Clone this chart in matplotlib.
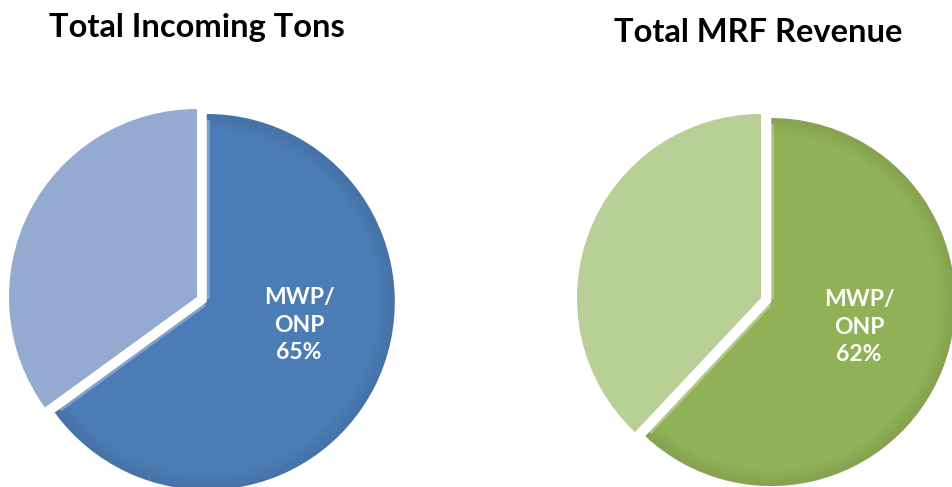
import matplotlib
matplotlib.use('Agg')
import matplotlib.pyplot as plt
from matplotlib.patches import Wedge
import numpy as np

# Data
titles = ['Total Incoming Tons', 'Total MRF Revenue']
share_mwp = [65, 62]          # MWP/ONP share in percent
share_other = [35, 38]
label_name = 'MWP/\nONP'
main_colors = ['#4C7CB5', '#91B157']
other_colors = ['#95AAD0', '#B8CF96']

W, H = 952, 487
fig = plt.figure(figsize=(W / 100, H / 100), dpi=100)
ax = fig.add_axes([0, 0, 1, 1])

# pie layout in pixels (center of the un-exploded pie, radius)
centers = [(197, H - 297), (761, H - 298)]
radii = [188, 184]
title_pos = [(197, H - 27), (758, H - 33)]
label_pos = [(299, H - 325), (859, H - 327)]

for i in range(2):
    r = radii[i]
    wedges, _ = ax.pie([share_mwp[i], share_other[i]], colors=[main_colors[i], other_colors[i]],
                       startangle=90, counterclock=False, center=centers[i], radius=r,
                       explode=[11, 0], wedgeprops=dict(linewidth=0))
    big = wedges[0]
    cx, cy = big.center
    # darker rim on the big slice to fake the bevel shadow
    for k in range(8):
        ax.add_patch(Wedge((cx, cy), big.r - k * 2, big.theta1, big.theta2, width=2,
                           facecolor='black', alpha=0.08 * (8 - k) / 8, linewidth=0))
    # light bevel along the straight edges
    for ang in (big.theta1, big.theta2):
        a = np.deg2rad(ang)
        ax.plot([cx + 3 * np.cos(a), cx + (big.r - 6) * np.cos(a)],
                [cy + 3 * np.sin(a), cy + (big.r - 6) * np.sin(a)],
                color='white', alpha=0.3, lw=4, solid_capstyle='butt')
    ax.text(*title_pos[i], titles[i], ha='center', va='center', fontsize=23.5,
            fontweight='bold', family='Lato', color='black')
    ax.text(*label_pos[i], f'{label_name}\n{share_mwp[i]}%', ha='center', va='center',
            fontsize=16.5, fontweight='bold', family='Lato', color='white', linespacing=1.4)

ax.set_xlim(0, W)
ax.set_ylim(0, H)
ax.set_aspect('auto')
ax.axis('off')

fig.savefig('out.png', dpi=100)
